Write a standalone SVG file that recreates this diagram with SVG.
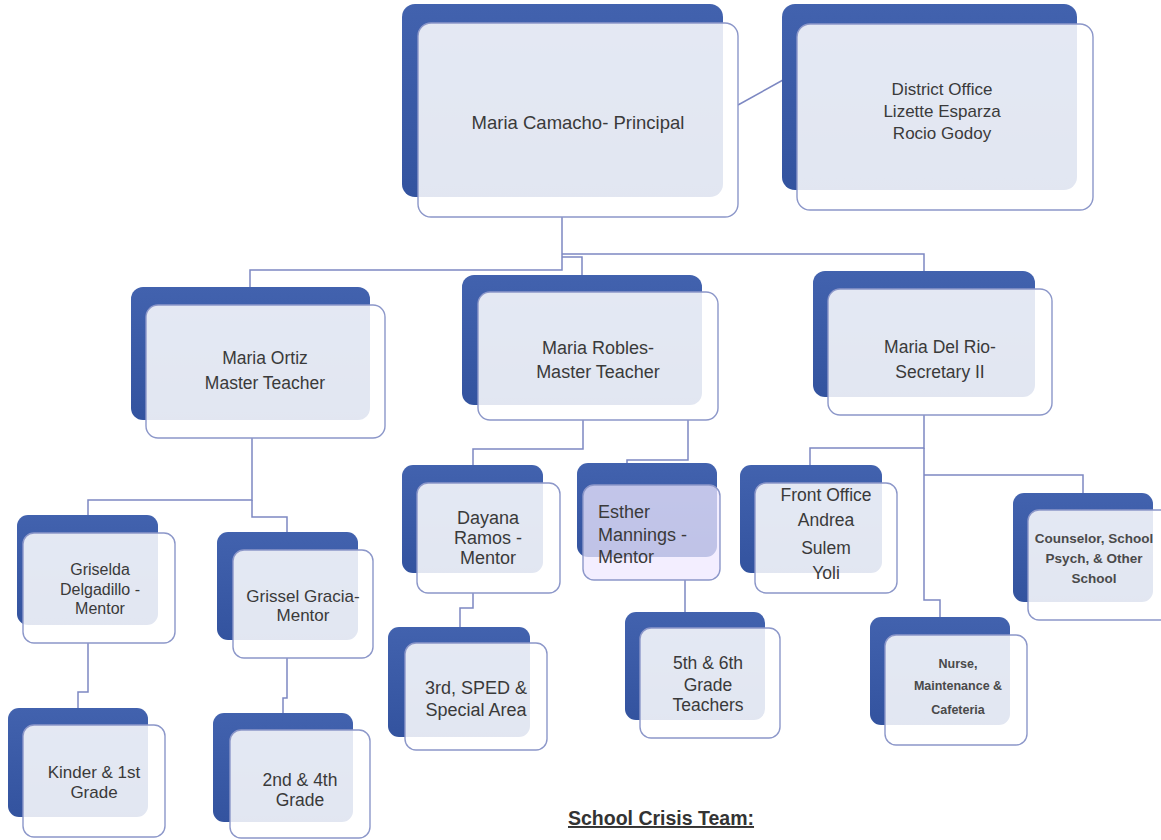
<svg xmlns="http://www.w3.org/2000/svg" width="1161" height="840" viewBox="0 0 1161 840">
<style>
.back{fill:url(#bg)}
.front{fill:#ffffff;fill-opacity:0.86;stroke:#8c97c9;stroke-width:1.4}
.front2{fill:#efe8ff;fill-opacity:0.75;stroke:#8c97c9;stroke-width:1.4}
.conn{fill:none;stroke:#7d88c2;stroke-width:1.5}
.t{font-family:'Liberation Sans',Arial,sans-serif;fill:#3a3a3a;text-anchor:middle}
.c{font-family:'Liberation Sans',Arial,sans-serif;fill:#4a4a4a;text-anchor:middle;font-weight:bold}
</style>
<defs>
<linearGradient id="bg" x1="0" y1="0" x2="0" y2="1">
<stop offset="0" stop-color="#4262ae"/>
<stop offset="1" stop-color="#33539f"/>
</linearGradient>
</defs>
<rect width="1161" height="840" fill="#ffffff"/>
<g id="connectors">
<path class="conn" d="M738,105 L783,80"/>
<path class="conn" d="M562,217 V270 H250 V287"/>
<path class="conn" d="M562,257 H582 V275"/>
<path class="conn" d="M562,254 H924 V271"/>
<path class="conn" d="M252,438 V500 H88 V515"/>
<path class="conn" d="M252,500 V517 H287 V532"/>
<path class="conn" d="M88,643 V692 H78 V708"/>
<path class="conn" d="M287,658 V698 H283 V713"/>
<path class="conn" d="M583,420 V449 H473 V465"/>
<path class="conn" d="M688,420 V460 H627 V463"/>
<path class="conn" d="M473,593 V608 H460 V627"/>
<path class="conn" d="M685,580 V612"/>
<path class="conn" d="M924,415 V448 H810 V465"/>
<path class="conn" d="M924,448 V600 H940 V617"/>
<path class="conn" d="M924,475 H1083 V493"/>
</g>
<g id="principal">
<rect class="back" x="402" y="4" width="321" height="193" rx="13"/>
<rect class="front" x="418" y="23" width="320" height="194" rx="13"/>
<text class="t" x="578" y="129" font-size="18.5">Maria Camacho- Principal</text>
</g>
<g id="district">
<rect class="back" x="782" y="4" width="295" height="186" rx="13"/>
<rect class="front" x="797" y="24" width="296" height="186" rx="13"/>
<text class="t" x="942" y="95" font-size="17">District Office</text>
<text class="t" x="942" y="117" font-size="17">Lizette Esparza</text>
<text class="t" x="942" y="139" font-size="17">Rocio Godoy</text>
</g>
<g id="ortiz">
<rect class="back" x="131" y="287" width="239" height="133" rx="12"/>
<rect class="front" x="146" y="305" width="239" height="133" rx="12"/>
<text class="t" x="265" y="364" font-size="17.5">Maria Ortiz</text>
<text class="t" x="265" y="389" font-size="17.5">Master Teacher</text>
</g>
<g id="robles">
<rect class="back" x="462" y="275" width="240" height="130" rx="12"/>
<rect class="front" x="478" y="292" width="240" height="128" rx="12"/>
<text class="t" x="598" y="354" font-size="18">Maria Robles-</text>
<text class="t" x="598" y="378" font-size="18">Master Teacher</text>
</g>
<g id="delrio">
<rect class="back" x="813" y="271" width="222" height="126" rx="12"/>
<rect class="front" x="828" y="289" width="224" height="126" rx="12"/>
<text class="t" x="940" y="353" font-size="17.5">Maria Del Rio-</text>
<text class="t" x="940" y="378" font-size="17.5">Secretary II</text>
</g>
<g id="griselda">
<rect class="back" x="17" y="515" width="141" height="110" rx="11"/>
<rect class="front" x="23" y="533" width="152" height="110" rx="11"/>
<text class="t" x="100" y="575" font-size="16">Griselda</text>
<text class="t" x="100" y="595" font-size="16">Delgadillo -</text>
<text class="t" x="100" y="614" font-size="16">Mentor</text>
</g>
<g id="grissel">
<rect class="back" x="217" y="532" width="141" height="108" rx="11"/>
<rect class="front" x="233" y="550" width="140" height="108" rx="11"/>
<text class="t" x="303" y="602" font-size="17">Grissel Gracia-</text>
<text class="t" x="303" y="621" font-size="17">Mentor</text>
</g>
<g id="kinder">
<rect class="back" x="8" y="708" width="140" height="109" rx="11"/>
<rect class="front" x="23" y="725" width="142" height="112" rx="11"/>
<text class="t" x="94" y="778" font-size="17">Kinder &amp; 1st</text>
<text class="t" x="94" y="798" font-size="17">Grade</text>
</g>
<g id="second">
<rect class="back" x="213" y="713" width="140" height="109" rx="11"/>
<rect class="front" x="230" y="730" width="140" height="108" rx="11"/>
<text class="t" x="300" y="786" font-size="17.5">2nd &amp; 4th</text>
<text class="t" x="300" y="806" font-size="17.5">Grade</text>
</g>
<g id="dayana">
<rect class="back" x="402" y="465" width="141" height="108" rx="11"/>
<rect class="front" x="417" y="483" width="143" height="110" rx="11"/>
<text class="t" x="488" y="524" font-size="18">Dayana</text>
<text class="t" x="488" y="544" font-size="18">Ramos -</text>
<text class="t" x="488" y="564" font-size="18">Mentor</text>
</g>
<g id="esther">
<rect class="back" x="577" y="463" width="140" height="94" rx="11"/>
<rect class="front2" x="583" y="485" width="137" height="95" rx="11"/>
<text class="t" x="598" y="518" font-size="18" text-anchor="start" style="text-anchor:start">Esther</text>
<text class="t" x="598" y="541" font-size="18" style="text-anchor:start">Mannings -</text>
<text class="t" x="598" y="563" font-size="18" style="text-anchor:start">Mentor</text>
</g>
<g id="third">
<rect class="back" x="388" y="627" width="142" height="110" rx="11"/>
<rect class="front" x="405" y="643" width="142" height="107" rx="11"/>
<text class="t" x="476" y="694" font-size="18">3rd, SPED &amp;</text>
<text class="t" x="476" y="716" font-size="18">Special Area</text>
</g>
<g id="fifth">
<rect class="back" x="625" y="612" width="140" height="108" rx="11"/>
<rect class="front" x="640" y="628" width="140" height="110" rx="11"/>
<text class="t" x="708" y="669" font-size="17.5">5th &amp; 6th</text>
<text class="t" x="708" y="691" font-size="17.5">Grade</text>
<text class="t" x="708" y="711" font-size="17.5">Teachers</text>
</g>
<g id="frontoffice">
<rect class="back" x="740" y="465" width="142" height="108" rx="11"/>
<rect class="front" x="755" y="483" width="142" height="110" rx="11"/>
<text class="t" x="826" y="501" font-size="17.5">Front Office</text>
<text class="t" x="826" y="526" font-size="17.5">Andrea</text>
<text class="t" x="826" y="554" font-size="17.5">Sulem</text>
<text class="t" x="826" y="579" font-size="17.5">Yoli</text>
</g>
<g id="counselor">
<rect class="back" x="1013" y="493" width="140" height="109" rx="11"/>
<rect class="front" x="1028" y="510" width="145" height="110" rx="11"/>
<text class="c" x="1094" y="543" font-size="13.5">Counselor, School</text>
<text class="c" x="1094" y="563" font-size="13.5">Psych, &amp; Other</text>
<text class="c" x="1094" y="583" font-size="13.5">School</text>
</g>
<g id="nurse">
<rect class="back" x="870" y="617" width="140" height="108" rx="11"/>
<rect class="front" x="885" y="635" width="142" height="110" rx="11"/>
<text class="c" x="958" y="668" font-size="12.5">Nurse,</text>
<text class="c" x="958" y="690" font-size="12.5">Maintenance  &amp;</text>
<text class="c" x="958" y="714" font-size="12.5">Cafeteria</text>
</g>
<g id="crisis">
<text x="568" y="825" font-family="'Liberation Sans',Arial,sans-serif" font-size="19.5" font-weight="bold" fill="#333" text-decoration="underline">School Crisis Team:</text>
</g>
</svg>
